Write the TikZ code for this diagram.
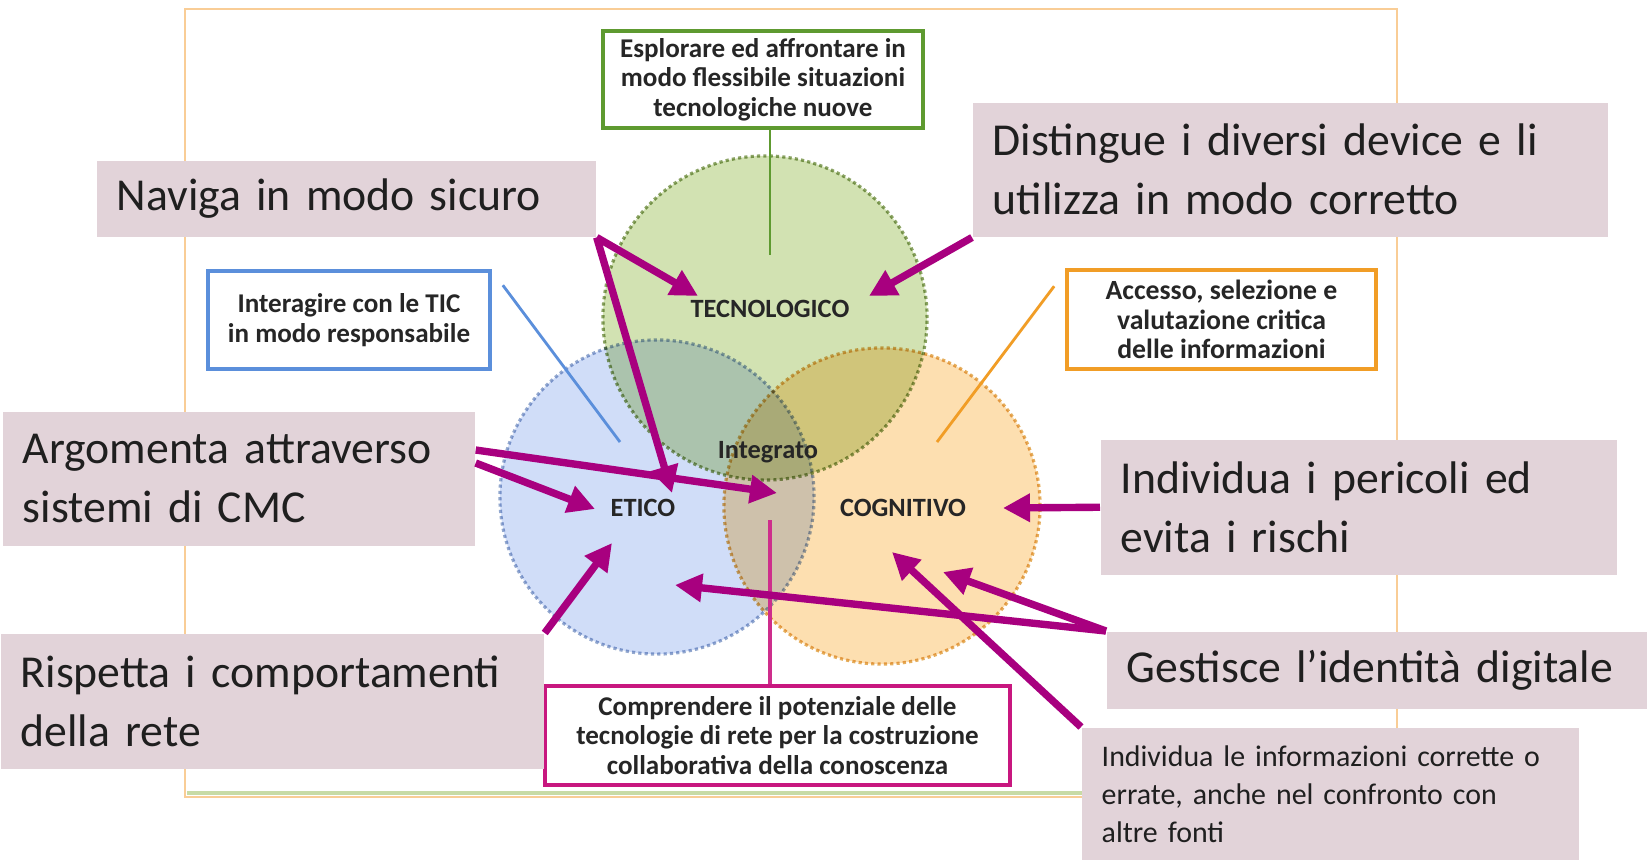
\documentclass[tikz,border=0pt]{standalone}
\usepackage{fontspec}
\setmainfont{Carlito}
\usepackage{tikz}
\usetikzlibrary{arrows.meta, positioning, calc}
\definecolor{calloutbg}{HTML}{E2D3D9}
\definecolor{arrowpurple}{HTML}{A8007F}
\definecolor{techgreen}{HTML}{5E9A30}
\definecolor{ethicblue}{HTML}{5B8FDB}
\definecolor{cogorange}{HTML}{F19D26}
\definecolor{integmagenta}{HTML}{C8177F}
\definecolor{techfill}{HTML}{D2E2B2}
\definecolor{ethicfill}{HTML}{D0DDF8}
\definecolor{cogfill}{HTML}{FDDFB0}
\definecolor{techdot}{HTML}{8CA465}
\definecolor{ethicdot}{HTML}{94A9CF}
\definecolor{cogdot}{HTML}{E5AE5C}
\definecolor{framecol}{HTML}{F9CD96}
\definecolor{frameline}{HTML}{C8DBA6}

\begin{document}
\begin{tikzpicture}[
    x=0.01cm, y=-0.01cm,
    callout/.style={rectangle, fill=calloutbg, anchor=north west, align=left, inner xsep=0.2cm, inner ysep=0pt, text=black!88, font=\fontsize{13}{16.8}\selectfont},
    smallcallout/.style={callout, font=\fontsize{8.5}{10.8}\selectfont},
    skillbox/.style={rectangle, draw=#1, line width=1pt, fill=white, align=center, inner sep=0pt, text=black!85, font=\fontsize{7.7}{8.4}\selectfont\bfseries},
    area/.style={circle, draw=#1, line width=0.9pt, dash pattern=on 0.9pt off 0.9pt, inner sep=0pt},
    areaname/.style={text=black!85, font=\fontsize{7.5}{9}\selectfont\bfseries},
    link/.style={line width=0.8pt},
    pointer/.style={draw=arrowpurple, line width=2.1pt, -{Triangle[length=0.27cm, width=0.27cm]}},
]
    \useasboundingbox (0,0) rectangle (1647,860);
    \fill[white] (0,0) rectangle (1647,860);
    \draw[framecol, line width=0.8pt] (185,9) rectangle (1397,797);
    \draw[frameline, line width=1pt] (187,793) -- (1395,793);

    \begin{scope}[blend group=multiply]
        \node[area=techdot, fill=techfill, minimum size=3.24cm] (tec) at (765,318) {};
        \node[area=ethicdot, fill=ethicfill, minimum size=3.14cm] (eti) at (657,497) {};
        \node[area=cogdot, fill=cogfill, minimum size=3.16cm] (cog) at (882,506) {};
    \end{scope}

    \node[areaname] (tecname) at (770,309) {TECNOLOGICO};
    \node[areaname] (etiname) at (643,508) {ETICO};
    \node[areaname] (cogname) at (903,508) {COGNITIVO};
    \node[areaname] (intname) at (768,452) {Integrato};

    \node[skillbox=techgreen, minimum width=3.2cm, minimum height=0.97cm] (techbox) at (763,79.5) {Esplorare ed affrontare in\\modo flessibile situazioni\\tecnologiche nuove};
    \node[skillbox=ethicblue, minimum width=2.82cm, minimum height=0.98cm] (ethicbox) at (349,320) {Interagire con le TIC\\in modo responsabile};
    \node[skillbox=cogorange, minimum width=3.09cm, minimum height=0.99cm, font=\fontsize{7.9}{8.4}\selectfont\bfseries] (cogbox) at (1221.5,319.5) {Accesso, selezione e\\valutazione critica\\delle informazioni};
    \node[skillbox=integmagenta, minimum width=4.65cm, minimum height=0.99cm] (intbox) at (777.5,735.5) {Comprendere il potenziale delle\\tecnologie di rete per la costruzione\\collaborativa della conoscenza};

    \coordinate (tecend) at (770,255);
    \coordinate (etiend) at (620,442);
    \coordinate (cogend) at (937,442);
    \coordinate (intend) at (770,520);
    \draw[link, techgreen] (techbox.south -| tecend) -- (tecend);
    \draw[link, ethicblue] ($(ethicbox.north east)+(11,16)$) -- (etiend);
    \draw[link, cogorange] ($(cogbox.north west)+(-11,18)$) -- (cogend);
    \draw[link, integmagenta!90, line width=1.1pt] (intbox.north -| intend) -- (intend);

    \node[callout, text width=4.59cm, minimum height=0.76cm] (naviga) at (96,160) {Naviga in modo sicuro};
    \node[callout, text width=5.95cm, minimum height=1.34cm] (distingue) at (972,102) {Distingue i diversi device e li\\utilizza in modo corretto};
    \node[callout, text width=4.32cm, minimum height=1.34cm] (argomenta) at (2,411) {Argomenta attraverso\\sistemi di CMC};
    \node[callout, text width=4.76cm, minimum height=1.35cm] (pericoli) at (1100,439) {Individua i pericoli ed\\evita i rischi};
    \node[callout, text width=5.03cm, minimum height=1.35cm] (rispetta) at (0,633) {Rispetta i comportamenti\\della rete};
    \node[callout, text width=5.01cm, minimum height=0.77cm] (gestisce) at (1106,631) {Gestisce l’identità digitale};
    \node[smallcallout, text width=4.57cm, minimum height=1.33cm] (informazioni) at (1081,727) {Individua le informazioni corrette o\\errate, anche nel confronto con\\altre fonti};

    \coordinate (tecleft) at (698,296);
    \coordinate (tecright) at (869,296);
    \coordinate (etitop) at (672,493);
    \coordinate (intmid) at (777,493);
    \coordinate (etileft) at (595,509);
    \coordinate (etibelow) at (612,543);
    \coordinate (etilow) at (675,585);
    \coordinate (cogright) at (1003,508);
    \coordinate (coglow) at (943,572);
    \coordinate (cogbelow) at (892,552);

    \draw[pointer] (naviga.south east) -- (tecleft);
    \draw[pointer] (naviga.south east) -- (etitop);
    \draw[pointer] (distingue.south west) -- (tecright);
    \draw[pointer] ($(argomenta.north east)+(0,39)$) -- (intmid);
    \draw[pointer] ($(argomenta.north east)+(0,52)$) -- (etileft);
    \draw[pointer] (rispetta.north east) -- (etibelow);
    \draw[pointer] (pericoli.west) -- (cogright);
    \draw[pointer] (gestisce.north west) -- (etilow);
    \draw[pointer] (gestisce.north west) -- (coglow);
    \draw[pointer] (informazioni.north west) -- (cogbelow);
\end{tikzpicture}
\end{document}
